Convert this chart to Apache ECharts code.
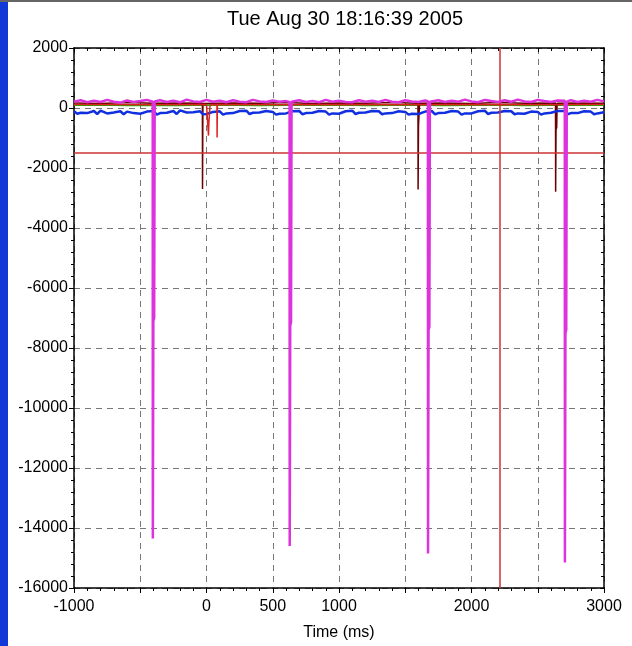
<!DOCTYPE html>
<html>
<head>
<meta charset="utf-8">
<script src="https://cdn.jsdelivr.net/npm/echarts@6/dist/echarts.min.js"></script>
<style>html,body{margin:0;padding:0;background:#fff}#c{width:632px;height:646px}</style>
</head>
<body>
<div id="c"></div>
<script>
var titleText = 'Tue Aug 30 18:16:39 2005';
var xName = 'Time (ms)';
var xTicksShown = [-1000, 0, 500, 1000, 2000, 3000];

var magentaData = [[-1000,210],[-950,260],[-900,190],[-850,240],[-800,200],[-750,270],[-700,210],[-650,180],[-600,250],[-550,200],[-500,230],[-450,270],[-406,210],[-405,-14350],[-401,-7100],[-395,-7000],[-391,220],[-350,260],[-300,200],[-250,240],[-200,190],[-150,280],[-100,220],[-50,200],[0,270],[50,210],[100,240],[150,190],[200,260],[250,210],[300,190],[350,270],[400,220],[450,200],[500,250],[550,210],[600,230],[627,200],[628,-14600],[632,-7250],[638,-7150],[642,210],[700,260],[750,200],[800,230],[850,190],[900,270],[950,210],[1000,240],[1050,200],[1100,190],[1150,260],[1200,210],[1250,240],[1300,200],[1350,270],[1400,210],[1450,190],[1500,260],[1550,220],[1600,200],[1650,250],[1671,230],[1672,-14850],[1676,-7400],[1682,-7300],[1686,210],[1750,260],[1800,200],[1850,240],[1900,210],[1950,280],[2000,220],[2050,190],[2100,270],[2150,230],[2200,200],[2250,260],[2300,210],[2350,280],[2400,220],[2450,200],[2500,270],[2550,230],[2600,200],[2650,250],[2704,240],[2705,-15150],[2709,-7500],[2715,-7400],[2719,210],[2750,260],[2800,200],[2850,240],[2900,210],[2950,270],[3000,220]];

var blueData = [[-1000,-110],[-975,-190],[-950,-160],[-900,-170],[-850,-100],[-825,-200],[-800,-90],[-750,-180],[-700,-150],[-650,-110],[-625,-210],[-600,-120],[-550,-170],[-500,-190],[-450,-120],[-400,-100],[-375,-220],[-350,-170],[-300,-160],[-250,-100],[-225,-200],[-200,-80],[-150,-150],[-100,-140],[-50,-110],[-25,-210],[0,-200],[50,-130],[100,-110],[125,-220],[150,-180],[200,-170],[250,-100],[300,-90],[325,-200],[350,-160],[400,-150],[450,-100],[500,-130],[525,-220],[550,-190],[600,-180],[650,-110],[700,-100],[725,-210],[750,-170],[800,-160],[850,-100],[900,-120],[925,-220],[950,-180],[1000,-190],[1050,-110],[1100,-90],[1125,-200],[1150,-160],[1200,-150],[1250,-100],[1300,-110],[1325,-210],[1350,-180],[1400,-170],[1450,-110],[1500,-130],[1525,-220],[1550,-190],[1600,-200],[1650,-120],[1700,-100],[1725,-210],[1750,-170],[1800,-160],[1850,-100],[1900,-120],[1925,-220],[1950,-180],[2000,-180],[2050,-110],[2100,-90],[2125,-200],[2150,-160],[2200,-150],[2250,-100],[2300,-110],[2325,-210],[2350,-180],[2400,-190],[2450,-120],[2500,-130],[2525,-220],[2550,-180],[2600,-160],[2650,-100],[2700,-100],[2725,-210],[2750,-170],[2800,-170],[2850,-110],[2900,-120],[2925,-210],[2950,-180],[3000,-140]];

var greenData = [[-1000,90],[-800,100],[-600,80],[-400,95],[-200,85],[0,100],[200,90],[400,80],[600,95],[800,90],[1000,100],[1200,85],[1400,90],[1600,95],[1800,80],[2000,90],[2200,100],[2400,85],[2600,90],[2800,95],[3000,90]];

var darkRedData = [[-1000,170],[-800,150],[-600,180],[-400,160],[-200,170],[-31,160],[-30,-2700],[-27,150],[200,170],[400,160],[600,180],[800,150],[1000,170],[1200,160],[1400,180],[1596,160],[1597,-2720],[1600,-600],[1605,-550],[1608,160],[1800,170],[2000,150],[2200,180],[2400,160],[2634,170],[2635,-2790],[2638,-720],[2643,-650],[2646,160],[2800,170],[3000,160]];

var redData = [[-1000,120],[-500,110],[0,120],[14,100],[15,-920],[18,-490],[24,-450],[27,110],[79,120],[80,-980],[82,120],[500,110],[1000,120],[1500,110],[2000,120],[2500,110],[3000,120]];

var thresholdY = -1480;
var cursorX = 2210;

var FONT = 'Liberation Sans';
var chart = echarts.init(document.getElementById('c'), null, {renderer: 'canvas'});

function axisCommon(extra) {
  return Object.assign({
    type: 'value',
    axisLine: {show: true, onZero: false, lineStyle: {color: '#000', width: 1.5}},
    axisTick: {show: true, inside: false, length: 5, lineStyle: {color: '#000'}},
    minorTick: {show: true, splitNumber: 5, length: 3, lineStyle: {color: '#000'}},
    splitLine: {show: false},
    axisLabel: {show: false}
  }, extra);
}

var option = {
  animation: false,
  backgroundColor: '#fff',
  title: {
    text: titleText,
    left: 340, top: 4, textAlign: 'center',
    textStyle: {fontFamily: FONT, fontSize: 20, fontWeight: 'normal', color: '#000'}
  },
  grid: {left: 74, right: 28, top: 48, bottom: 48, containLabel: false},
  xAxis: [
    axisCommon({
      position: 'bottom', min: -1000, max: 3000, interval: 500,
      splitLine: {show: true, lineStyle: {color: '#777', type: [6, 5], width: 1}},
      axisLabel: {
        show: true, fontFamily: FONT, fontSize: 16, color: '#000', margin: 11,
        formatter: function (v) { return xTicksShown.indexOf(v) >= 0 ? String(v) : ''; }
      },
      name: xName, nameLocation: 'middle', nameGap: 37,
      nameTextStyle: {fontFamily: FONT, fontSize: 16, color: '#000'}
    }),
    axisCommon({position: 'top', min: -1000, max: 3000, interval: 500,
      axisTick: {show: true, inside: true, length: 4, lineStyle: {color: '#000'}}})
  ],
  yAxis: [
    axisCommon({
      position: 'left', min: -16000, max: 2000, interval: 2000,
      splitLine: {show: true, lineStyle: {color: '#777', type: [6, 5], width: 1}},
      axisLabel: {show: true, fontFamily: FONT, fontSize: 16, color: '#000', margin: 6,
        formatter: function (v) { return String(v); }}
    }),
    axisCommon({position: 'right', min: -16000, max: 2000, interval: 2000,
      axisTick: {show: true, inside: true, length: 4, lineStyle: {color: '#000'}}})
  ],
  series: [
    {type: 'line', data: greenData, showSymbol: false, lineStyle: {color: '#00c000', width: 1.5}, z: 2},
    {type: 'line', data: darkRedData, showSymbol: false, lineStyle: {color: '#6a0000', width: 1.5}, z: 3},
    {type: 'line', data: blueData, showSymbol: false, lineStyle: {color: '#1030e0', width: 2.5}, z: 4},
    {type: 'line', data: redData, showSymbol: false, lineStyle: {color: '#e02020', width: 1.5}, z: 5},
    {type: 'line', data: magentaData, showSymbol: false, lineStyle: {color: '#dd33dd', width: 2.5}, z: 6},
    {type: 'line', data: [], showSymbol: false, z: 7,
      markLine: {
        silent: true, symbol: ['none', 'none'], label: {show: false},
        lineStyle: {color: '#cc3333', type: 'solid', width: 1.5},
        data: [{yAxis: thresholdY}, {xAxis: cursorX}]
      }
    }
  ],
  graphic: [
    {type: 'rect', left: 0, top: 0, shape: {width: 8, height: 646}, style: {fill: '#1238d8'}, z: 100},
    {type: 'rect', left: 0, top: 0, shape: {width: 632, height: 2}, style: {fill: '#666'}, z: 100}
  ]
};
chart.setOption(option);
</script>
</body>
</html>
